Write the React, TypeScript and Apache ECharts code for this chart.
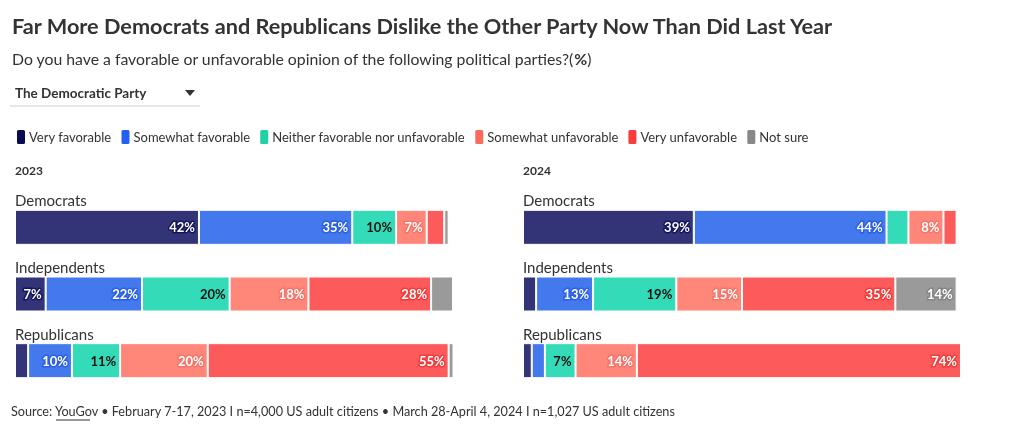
import React, { useEffect, useRef } from "react";
import * as echarts from "echarts";

const categories = ["Democrats", "Independents", "Republicans"];
const responses = [
  "Very favorable",
  "Somewhat favorable",
  "Neither favorable nor unfavorable",
  "Somewhat unfavorable",
  "Very unfavorable",
  "Not sure",
];

// 2023 values (Democrats, Independents, Republicans)
const veryFav2023 = [42, 7, 3];
const somewhatFav2023 = [35, 22, 10];
const neither2023 = [10, 20, 11];
const somewhatUnfav2023 = [7, 18, 20];
const veryUnfav2023 = [4, 28, 55];
const notSure2023 = [1, 5, 2];

// 2024 values
const veryFav2024 = [39, 3, 2];
const somewhatFav2024 = [44, 13, 3];
const neither2024 = [5, 19, 7];
const somewhatUnfav2024 = [8, 15, 14];
const veryUnfav2024 = [3, 35, 74];
const notSure2024 = [0, 14, 1];

const years = ["2023", "2024"];

const barColors = ["#333378", "#4478ed", "#33dbb8", "#fe877a", "#fd5b5b", "#9a9a9a"];
const legendColors = ["#0b0b55", "#2160f0", "#1fd1a5", "#fc6c5c", "#f93b3b", "#888888"];
const haloColors = ["#15155e", "#2a5fe6", "#33dbb8", "#f5756a", "#f23c3c", "#858585"];
const labelColors = ["#fff", "#fff", "#111", "#fff", "#fff", "#fff"];

const FONT = "Lato, 'Noto Sans', sans-serif";

export default function App() {
  const ref = useRef<HTMLDivElement>(null);
  useEffect(() => {
    if (!ref.current) return;
    const chart = echarts.init(ref.current, null, { renderer: "svg" });
    const data2023 = [veryFav2023, somewhatFav2023, neither2023, somewhatUnfav2023, veryUnfav2023, notSure2023];
    const data2024 = [veryFav2024, somewhatFav2024, neither2024, somewhatUnfav2024, veryUnfav2024, notSure2024];
    const sets = [data2023, data2024];

    const series: any[] = [];
    sets.forEach((set, gi) => {
      set.forEach((vals, si) => {
        series.push({
          type: "bar",
          name: responses[si],
          stack: "s" + gi,
          xAxisIndex: gi,
          yAxisIndex: gi,
          barWidth: 35,
          data: vals,
          itemStyle: { color: barColors[si], borderColor: "#fff", borderWidth: 1 },
          label: {
            show: true,
            position: "insideRight",
            distance: 4,
            formatter: (p: any) => (p.value >= 7 ? p.value + "%" : ""),
            color: labelColors[si],
            fontFamily: FONT,
            fontWeight: "bold",
            fontSize: 13,
            textBorderColor: haloColors[si],
            textBorderWidth: 3,
          },
          emphasis: { disabled: true },
        });
      });
    });

    const grids = [
      { left: 15, width: 438, top: 194, height: 200 },
      { left: 523, width: 438, top: 194, height: 200 },
    ];

    chart.setOption({
      animation: false,
      textStyle: { fontFamily: FONT },
      title: [
        {
          text: "Far More Democrats and Republicans Dislike the Other Party Now Than Did Last Year",
          left: 7,
          top: 10,
          textStyle: { fontFamily: FONT, fontSize: 21.7, fontWeight: "bold", color: "#333" },
        },
        {
          text: "Do you have a favorable or unfavorable opinion of the following political parties?({b|%})",
          left: 7,
          top: 45,
          textStyle: {
            fontFamily: FONT,
            fontSize: 15.8,
            fontWeight: "normal",
            color: "#333",
            rich: { b: { fontFamily: FONT, fontSize: 15.8, fontWeight: "bold", color: "#333" } },
          },
        },
        {
          text: years[0],
          left: 10,
          top: 159,
          textStyle: { fontFamily: FONT, fontSize: 12, fontWeight: "bold", color: "#333" },
        },
        {
          text: years[1],
          left: 518,
          top: 159,
          textStyle: { fontFamily: FONT, fontSize: 12, fontWeight: "bold", color: "#333" },
        },
      ],
      legend: {
        left: 10,
        top: 123,
        icon: "roundRect",
        itemWidth: 10,
        itemHeight: 16,
        itemGap: 8,
        selectedMode: false,
        textStyle: { fontFamily: FONT, fontSize: 13, color: "#333", padding: [0, 0, 0, -2] },
        data: responses.map((r, i) => ({ name: r, itemStyle: { color: legendColors[i] } })),
      },
      grid: grids,
      xAxis: grids.map((_, i) => ({
        type: "value",
        gridIndex: i,
        min: 0,
        max: 100,
        show: false,
      })),
      yAxis: grids.map((_, i) => ({
        type: "category",
        gridIndex: i,
        data: categories,
        inverse: true,
        axisLine: { show: false },
        axisTick: { show: false },
        splitLine: { show: false },
        axisLabel: {
          inside: true,
          margin: 0,
          align: "left",
          verticalAlign: "bottom",
          fontFamily: FONT,
          fontSize: 15,
          color: "#333",
          lineHeight: 18,
          padding: [0, 0, 18, 0],
        },
      })),
      graphic: [
        {
          type: "text",
          left: 15,
          top: 86,
          style: { text: "The Democratic Party", font: `bold 13.5px ${FONT}`, fill: "#333" },
        },
        {
          type: "polygon",
          shape: { points: [[185, 90], [195, 90], [190, 96]] },
          style: { fill: "#333" },
        },
        {
          type: "line",
          shape: { x1: 10, y1: 106, x2: 200, y2: 106 },
          style: { stroke: "#ccc", lineWidth: 1 },
        },
        {
          type: "text",
          left: 11,
          top: 405,
          style: {
            text: "Source: YouGov • February 7-17, 2023 I n=4,000 US adult citizens • March 28-April 4, 2024 I n=1,027 US adult citizens",
            font: `12.66px ${FONT}`,
            fill: "#333",
          },
        },
        {
          type: "line",
          shape: { x1: 56, y1: 420, x2: 90, y2: 420 },
          style: { stroke: "#333", lineWidth: 1 },
        },
      ],
      series,
    });
    return () => chart.dispose();
  }, []);
  return <div ref={ref} style={{ position: "fixed", left: 0, top: 0, width: 1020, height: 431 }} />;
}
